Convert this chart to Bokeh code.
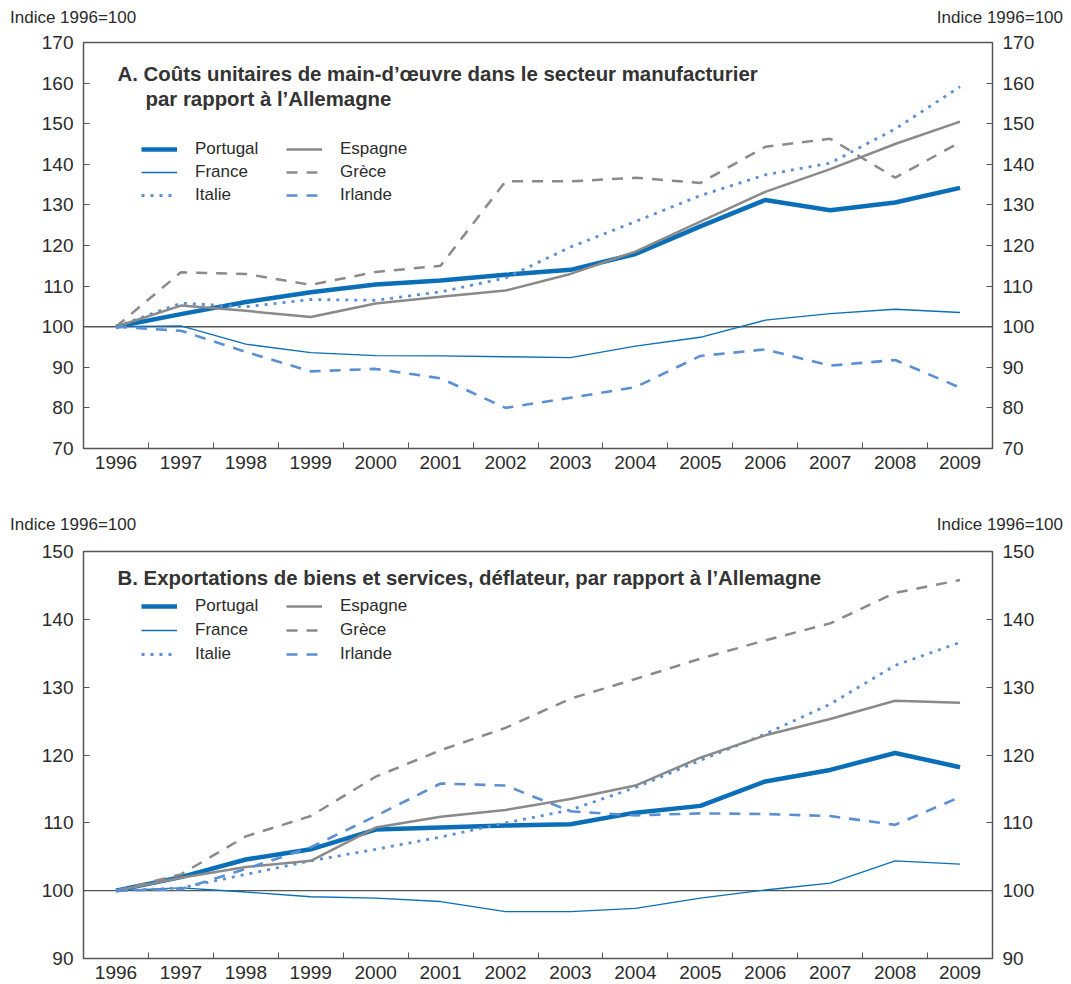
from bokeh.plotting import figure
from bokeh.layouts import column
from bokeh.models import (FixedTicker, LinearAxis, Range1d, Span, Label,
                          Legend, LegendItem, Div)
from bokeh.embed import file_html
from bokeh.resources import INLINE

years = list(range(1996, 2010))
countries = ["Portugal", "France", "Italie", "Espagne", "Grèce", "Irlande"]
index_note = "Indice 1996=100"

# Panel A: unit labour costs in manufacturing relative to Germany (1996=100)
a_portugal = [100, 103.1, 106.1, 108.5, 110.4, 111.4, 112.8, 114.0, 117.9, 124.7, 131.2, 128.7, 130.6, 134.2]
a_france = [100, 100.2, 95.7, 93.6, 92.9, 92.8, 92.6, 92.4, 95.2, 97.4, 101.6, 103.2, 104.3, 103.5]
a_italie = [100, 105.8, 104.9, 106.7, 106.5, 108.6, 112.0, 119.6, 125.9, 132.3, 137.4, 140.3, 148.7, 159.1]
a_espagne = [100, 105.2, 103.9, 102.4, 105.7, 107.4, 108.9, 113.0, 118.5, 125.9, 133.2, 138.8, 145.0, 150.5]
a_grece = [100, 113.4, 113.0, 110.3, 113.5, 115.0, 135.8, 135.8, 136.7, 135.4, 144.3, 146.3, 136.7, 145.4]
a_irlande = [100, 99.0, 93.8, 89.0, 89.6, 87.3, 80.0, 82.5, 85.1, 92.8, 94.4, 90.4, 91.8, 85.0]

# Panel B: export deflator of goods and services relative to Germany (1996=100)
b_portugal = [100, 102.0, 104.6, 106.1, 109.0, 109.3, 109.6, 109.8, 111.5, 112.5, 116.1, 117.8, 120.3, 118.2]
b_france = [100, 100.4, 99.8, 99.1, 98.9, 98.4, 96.9, 96.9, 97.4, 98.9, 100.1, 101.1, 104.4, 103.9]
b_italie = [100, 100.4, 102.4, 104.4, 106.1, 107.9, 110.0, 111.9, 115.2, 119.2, 123.1, 127.5, 133.2, 136.6]
b_espagne = [100, 101.9, 103.5, 104.4, 109.3, 110.9, 111.9, 113.5, 115.5, 119.6, 122.9, 125.3, 128.0, 127.7]
b_grece = [100, 102.4, 108.0, 111.0, 116.8, 120.7, 124.0, 128.3, 131.2, 134.2, 136.9, 139.4, 143.9, 145.8]
b_irlande = [100, 100.2, 103.2, 106.4, 111.0, 115.8, 115.5, 111.7, 111.1, 111.4, 111.3, 111.0, 109.7, 113.8]

a_ticks = [70, 80, 90, 100, 110, 120, 130, 140, 150, 160, 170]
b_ticks = [90, 100, 110, 120, 130, 140, 150]

FONT = "Liberation Sans"
TEXT = "#2b2b2b"
DARK_BLUE = "#0b6fb8"
LIGHT_BLUE = "#5a8fd4"
GREY = "#8a8a8a"

STYLES = {
    "Portugal": dict(line_color=DARK_BLUE, line_width=4.5, line_dash="solid"),
    "France": dict(line_color=DARK_BLUE, line_width=1.3, line_dash="solid"),
    "Italie": dict(line_color=LIGHT_BLUE, line_width=2.8, line_dash="3 6"),
    "Espagne": dict(line_color=GREY, line_width=2.5, line_dash="solid"),
    "Grèce": dict(line_color=GREY, line_width=2.5, line_dash="11 9"),
    "Irlande": dict(line_color=LIGHT_BLUE, line_width=2.6, line_dash="11 9"),
}

WIDTH = 1071


def note_strip(height, top):
    """Thin strip holding the 'Indice' notes above both value axes."""
    span = ("position:absolute;top:{t}px;{side}:{d}px;line-height:20px;"
            "white-space:nowrap;")
    html = (
        f'<div style="position:relative;width:{WIDTH}px;height:{height}px;'
        f'font-family:\'{FONT}\';font-size:17px;color:{TEXT};">'
        f'<span style="{span.format(t=top, side="left", d=10)}">{index_note}</span>'
        f'<span style="{span.format(t=top, side="right", d=8)}">{index_note}</span>'
        '</div>'
    )
    return Div(text=html, width=WIDTH, height=height, margin=0)


def style_axis(ax, ticks):
    ax.ticker = FixedTicker(ticks=ticks)
    ax.axis_line_alpha = 0
    ax.major_tick_in = 6
    ax.major_tick_out = 0
    ax.major_tick_line_color = "#555555"
    ax.minor_tick_line_alpha = 0
    ax.major_label_standoff = 10
    ax.major_label_text_font = FONT
    ax.major_label_text_font_size = "19px"
    ax.major_label_text_color = TEXT


def make_panel(series, ymin, ymax, yticks, title_lines, height,
               border_top, border_bottom, leg_pos, leg_spacing):
    p = figure(width=WIDTH, height=height, output_backend="svg",
               toolbar_location=None,
               x_range=Range1d(1995.5, 2009.5), y_range=Range1d(ymin, ymax),
               min_border_left=83, min_border_right=79,
               min_border_top=border_top, min_border_bottom=border_bottom)
    p.xgrid.visible = False
    p.ygrid.visible = False
    p.outline_line_color = "#555555"
    p.outline_line_width = 1.5
    p.background_fill_color = "white"
    p.border_fill_color = "white"

    # year labels centred on each year, tick marks between years
    xa = p.xaxis[0]
    xa.ticker = FixedTicker(ticks=years, minor_ticks=[y + 0.5 for y in years[:-1]])
    xa.axis_line_alpha = 0
    xa.major_tick_in = 0
    xa.major_tick_out = 0
    xa.minor_tick_in = 6
    xa.minor_tick_out = 0
    xa.minor_tick_line_color = "#555555"
    xa.major_label_standoff = 7
    xa.major_label_text_font = FONT
    xa.major_label_text_font_size = "19px"
    xa.major_label_text_color = TEXT

    style_axis(p.yaxis[0], yticks)
    right = LinearAxis()
    style_axis(right, yticks)
    p.add_layout(right, "right")

    p.add_layout(Span(location=100, dimension="width", line_color="#555555",
                      line_width=1.4, level="underlay"))

    renderers = {}
    for name in countries:
        renderers[name] = p.line(years, series[name], **STYLES[name])

    leg_kw = dict(orientation="vertical", padding=0, margin=0,
                  spacing=leg_spacing, glyph_width=36, glyph_height=20,
                  label_height=20, label_standoff=18,
                  label_text_font=FONT, label_text_font_size="17px",
                  label_text_color=TEXT, border_line_alpha=0,
                  background_fill_alpha=0)
    left_leg = Legend(items=[LegendItem(label=n, renderers=[renderers[n]])
                             for n in countries[:3]],
                      location=leg_pos[0], **leg_kw)
    right_leg = Legend(items=[LegendItem(label=n, renderers=[renderers[n]])
                              for n in countries[3:]],
                       location=leg_pos[1], **leg_kw)
    p.add_layout(left_leg)
    p.add_layout(right_leg)

    for text, dx, dy in title_lines:
        p.add_layout(Label(x=1995.5, y=ymax, x_offset=dx, y_offset=dy,
                           text=text, text_font=FONT, text_font_size="20.4px",
                           text_font_style="bold", text_color="#333333",
                           text_baseline="middle", text_align="left"))
    return p


series_a = dict(zip(countries, [a_portugal, a_france, a_italie,
                                a_espagne, a_grece, a_irlande]))
series_b = dict(zip(countries, [b_portugal, b_france, b_italie,
                                b_espagne, b_grece, b_irlande]))

note_a = note_strip(30, 8)

top = make_panel(
    series_a, 70, 170, a_ticks,
    [("A. Coûts unitaires de main-d’œuvre dans le secteur manufacturier", 34, -31),
     ("par rapport à l’Allemagne", 62, -56)],
    height=470, border_top=12, border_bottom=52,
    leg_pos=[(58, 243), (203, 243)], leg_spacing=3)

note_b = note_strip(40, 15)

bottom = make_panel(
    series_b, 90, 150, b_ticks,
    [("B. Exportations de biens et services, déflateur, par rapport à l’Allemagne", 34, -26)],
    height=444, border_top=11, border_bottom=26,
    leg_pos=[(58, 294), (203, 294)], leg_spacing=4)

layout = column(note_a, top, note_b, bottom, spacing=0)
open("out.html", "w").write(file_html(layout, INLINE))
